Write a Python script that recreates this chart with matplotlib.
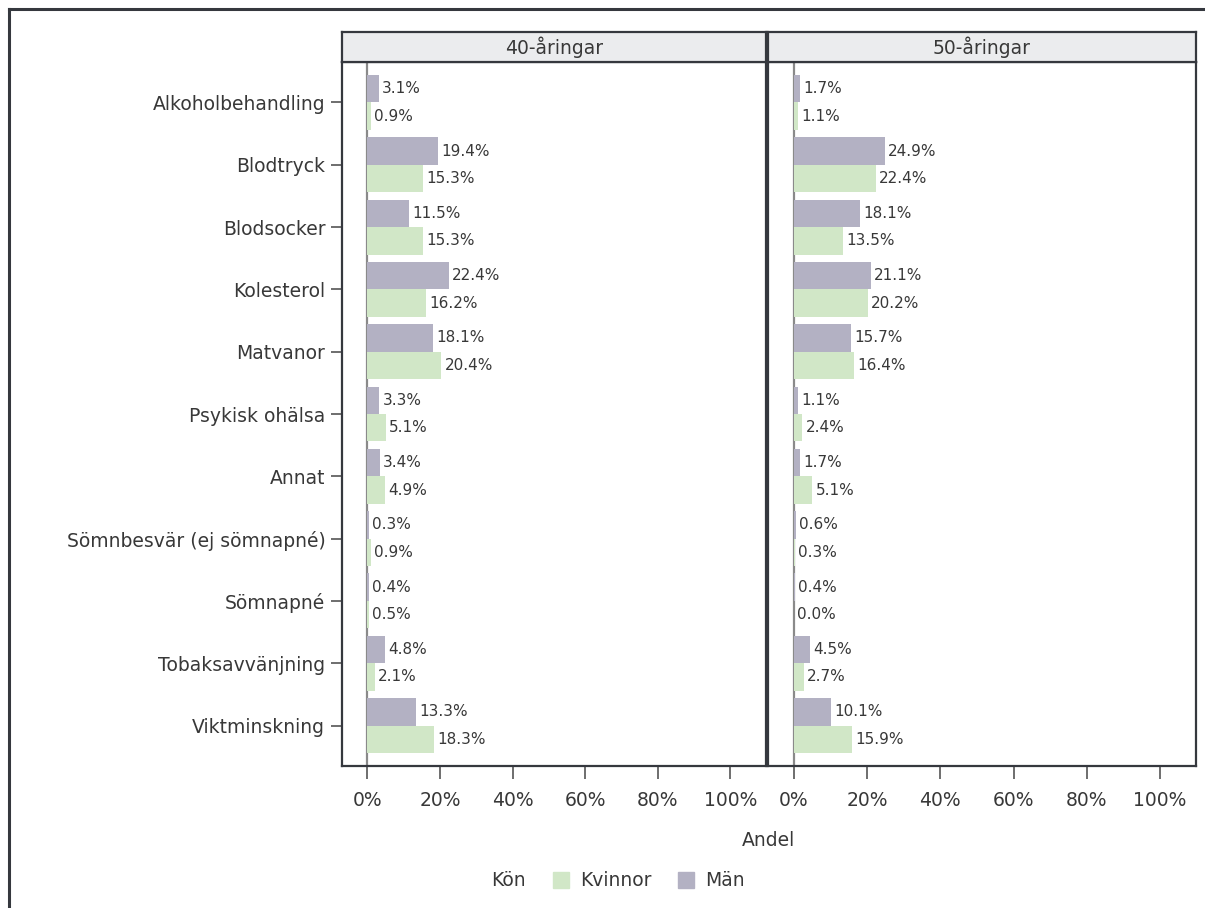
import matplotlib
matplotlib.use("Agg")
import matplotlib.pyplot as plt
from matplotlib.patches import Rectangle
from matplotlib.lines import Line2D

categories = ["Alkoholbehandling", "Blodtryck", "Blodsocker", "Kolesterol", "Matvanor",
              "Psykisk ohälsa", "Annat", "Sömnbesvär (ej sömnapné)", "Sömnapné",
              "Tobaksavvänjning", "Viktminskning"]
panels = ["40-åringar", "50-åringar"]
man_40 = [3.1, 19.4, 11.5, 22.4, 18.1, 3.3, 3.4, 0.3, 0.4, 4.8, 13.3]
kvinnor_40 = [0.9, 15.3, 15.3, 16.2, 20.4, 5.1, 4.9, 0.9, 0.5, 2.1, 18.3]
man_50 = [1.7, 24.9, 18.1, 21.1, 15.7, 1.1, 1.7, 0.6, 0.4, 4.5, 10.1]
kvinnor_50 = [1.1, 22.4, 13.5, 20.2, 16.4, 2.4, 5.1, 0.3, 0.0, 2.7, 15.9]
xticks = [0, 20, 40, 60, 80, 100]

plt.rcParams['font.family'] = ['DejaVu Sans']
C_MAN = "#b3b1c3"
C_KV = "#d1e7c7"
FRAME = "#35383e"
TXT = "#383838"
FS = 13.5
FS_VAL = 11

W, H = 1205, 908
fig = plt.figure(figsize=(W / 100, H / 100), dpi=100)

def fx(x):
    return x / W

def fy(y):
    return 1 - y / H

# outer frame (top and left visible)
fig.add_artist(Line2D([fx(9), fx(1205)], [fy(9), fy(9)], color=FRAME, lw=2.2))
fig.add_artist(Line2D([fx(9), fx(9)], [fy(9), fy(908)], color=FRAME, lw=2.2))

panel_x = [(342, 766), (768, 1196)]
data = [(man_40, kvinnor_40), (man_50, kvinnor_50)]
y_top, y_bot = 62, 766
strip_top = 32
bh = 0.44
ys = list(range(len(categories)))

for i, ((x0, x1), (man, kv)) in enumerate(zip(panel_x, data)):
    ax = fig.add_axes([fx(x0), fy(y_bot), (x1 - x0) / W, (y_bot - y_top) / H])
    ax.axvline(0, color="#8a8a8a", lw=1.6, zorder=1)
    ax.barh([y - bh / 2 for y in ys], man, height=bh, color=C_MAN, edgecolor='none', zorder=2)
    ax.barh([y + bh / 2 for y in ys], kv, height=bh, color=C_KV, edgecolor='none', zorder=2)
    for y, v in zip(ys, man):
        ax.text(v + 0.9, y - bh / 2, f"{v:.1f}%", va='center', ha='left', fontsize=FS_VAL, color=TXT)
    for y, v in zip(ys, kv):
        ax.text(v + 0.9, y + bh / 2, f"{v:.1f}%", va='center', ha='left', fontsize=FS_VAL, color=TXT)
    ax.set_xlim(-7, 109.8)
    ax.set_ylim(len(categories) - 0.35, -0.65)
    ax.set_xticks(xticks)
    ax.set_xticklabels([f"{t}%" for t in xticks])
    ax.tick_params(axis='x', direction='out', length=9, width=1.2, color="#555555",
                   labelsize=FS, labelcolor=TXT, pad=9)
    if i == 0:
        ax.set_yticks(ys)
        ax.set_yticklabels(categories)
        ax.tick_params(axis='y', direction='out', length=8, width=1.2, color="#555555",
                       labelsize=FS, labelcolor=TXT, pad=4)
    else:
        ax.set_yticks([])
    for s in ax.spines.values():
        s.set_color(FRAME)
        s.set_linewidth(1.6)
    # strip
    sax = fig.add_axes([fx(x0), fy(y_top), (x1 - x0) / W, (y_top - strip_top) / H])
    sax.set_facecolor("#ebecee")
    sax.set_xticks([])
    sax.set_yticks([])
    for s in sax.spines.values():
        s.set_color(FRAME)
        s.set_linewidth(1.6)
    sax.text(0.5, 0.5, panels[i], ha='center', va='center', fontsize=FS, color=TXT,
             transform=sax.transAxes)

fig.text(fx(768), fy(841), "Andel", ha='center', va='center', fontsize=FS, color=TXT)

# legend
ly = 880
fig.text(fx(508), fy(ly), "Kön", ha='center', va='center', fontsize=FS, color=TXT)
sq = 16
fig.add_artist(Rectangle((fx(553), fy(ly + sq / 2)), sq / W, sq / H, color=C_KV,
                         transform=fig.transFigure))
fig.text(fx(580), fy(ly), "Kvinnor", ha='left', va='center', fontsize=FS, color=TXT)
fig.add_artist(Rectangle((fx(678), fy(ly + sq / 2)), sq / W, sq / H, color=C_MAN,
                         transform=fig.transFigure))
fig.text(fx(705), fy(ly), "Män", ha='left', va='center', fontsize=FS, color=TXT)

fig.savefig("out.png", dpi=100, facecolor='white')
